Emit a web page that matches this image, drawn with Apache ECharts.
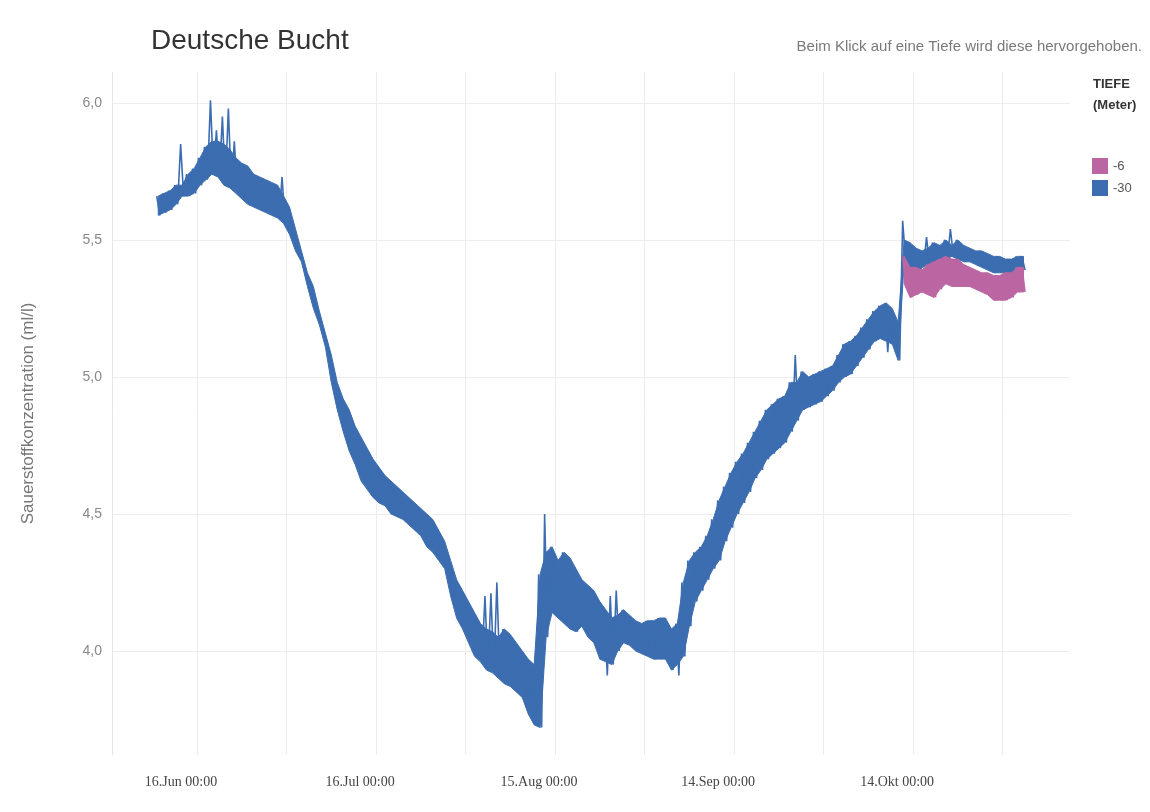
<!DOCTYPE html>
<html>
<head>
<meta charset="utf-8">
<script src="https://cdn.jsdelivr.net/npm/echarts@6/dist/echarts.min.js"></script>
<style>
html,body{margin:0;padding:0;background:#fff;}
#chart{width:1150px;height:812px;}
</style>
</head>
<body>
<div id="chart"></div>
<script>
// ---- Data ----
// Series -30 m: daily upper / lower edge of the dense band, starting 9 Jun
const startDate30 = [2018, 5, 9];
const deep30Hi = [
5.66,5.67,5.68,5.70,5.70,5.74,5.76,5.80,5.84,5.86,
5.86,5.85,5.83,5.80,5.78,5.77,5.74,5.73,5.72,5.71,
5.70,5.66,5.62,5.54,5.46,5.38,5.33,5.24,5.16,5.08,
4.98,4.92,4.88,4.82,4.78,4.74,4.70,4.67,4.64,4.62,
4.60,4.58,4.56,4.54,4.52,4.50,4.48,4.44,4.40,4.33,
4.26,4.22,4.18,4.14,4.10,4.08,4.07,4.05,4.08,4.06,
4.03,4.00,3.97,3.95,4.28,4.36,4.38,4.33,4.36,4.34,
4.30,4.26,4.24,4.22,4.18,4.15,4.12,4.13,4.15,4.13,
4.11,4.10,4.11,4.11,4.12,4.12,4.08,4.10,4.25,4.33,
4.36,4.38,4.42,4.48,4.55,4.60,4.65,4.69,4.72,4.76,
4.80,4.84,4.88,4.90,4.92,4.93,4.98,4.98,5.02,5.00,
5.01,5.02,5.03,5.04,5.08,5.12,5.13,5.15,5.18,5.21,
5.24,5.26,5.27,5.25,5.20,5.50,5.49,5.47,5.46,5.47,
5.49,5.48,5.50,5.48,5.50,5.48,5.47,5.46,5.46,5.45,
5.44,5.44,5.43,5.43,5.44,5.44
];
const deep30Lo = [
5.59,5.60,5.61,5.63,5.66,5.66,5.67,5.70,5.72,5.74,
5.73,5.70,5.69,5.67,5.65,5.63,5.62,5.61,5.60,5.59,
5.58,5.56,5.52,5.46,5.42,5.33,5.25,5.19,5.11,4.98,
4.88,4.80,4.73,4.68,4.62,4.59,4.56,4.54,4.53,4.50,
4.49,4.48,4.46,4.44,4.42,4.38,4.36,4.33,4.30,4.20,
4.12,4.08,4.03,3.98,3.96,3.93,3.92,3.90,3.88,3.87,
3.85,3.83,3.77,3.73,3.72,4.05,4.14,4.12,4.10,4.08,
4.07,4.09,4.05,4.03,3.97,3.96,3.95,4.00,4.03,4.02,
4.00,3.99,3.98,3.97,3.97,3.97,3.93,3.95,3.98,4.09,
4.18,4.22,4.26,4.30,4.33,4.40,4.45,4.50,4.54,4.58,
4.63,4.66,4.70,4.72,4.74,4.76,4.80,4.84,4.88,4.89,
4.90,4.91,4.93,4.95,4.98,5.00,5.01,5.04,5.07,5.10,
5.13,5.14,5.13,5.12,5.06,5.42,5.38,5.36,5.40,5.41,
5.42,5.42,5.43,5.44,5.43,5.42,5.42,5.41,5.40,5.39,
5.38,5.38,5.38,5.38,5.39,5.39
];
// Isolated spikes of the -30 m series: [day index, value]
const deep30PeaksUp = [[4,5.85],[9,6.01],[10,5.90],[11,5.95],[12,5.98],[13,5.86],[21,5.73],
  [55,4.20],[56,4.21],[57,4.25],[65,4.50],[76,4.20],[77,4.22],[107,5.08],[125,5.57],[129,5.51],[133,5.54]];
const deep30PeaksDown = [[75,3.91],[87,3.91],[122,5.09]];

// Series -6 m: daily upper / lower edge, starting 12 Okt
const startDate6 = [2018, 9, 12];
const deep6Hi = [
5.44,5.40,5.40,5.39,5.41,5.42,5.43,5.44,5.43,5.43,
5.41,5.40,5.39,5.38,5.38,5.37,5.37,5.38,5.38,5.40,5.40
];
const deep6Lo = [
5.34,5.29,5.30,5.31,5.30,5.29,5.32,5.34,5.33,5.33,
5.33,5.33,5.32,5.31,5.30,5.28,5.28,5.28,5.29,5.31,5.31
];
const deep6PeaksUp = [];
const deep6PeaksDown = [];

// Axis ticks
const yTickValues = [4.0, 4.5, 5.0, 5.5, 6.0];
const yTickLabels = ['4,0', '4,5', '5,0', '5,5', '6,0'];
const xGridDates = [[2018,5,16],[2018,6,1],[2018,6,16],[2018,6,31],[2018,7,15],[2018,7,30],[2018,8,14],[2018,8,29],[2018,9,14],[2018,9,29]];
const xLabelDates = [[2018,5,16],[2018,6,16],[2018,7,15],[2018,8,14],[2018,9,14]];
const xTickLabels = ['16.Jun 00:00', '16.Jul 00:00', '15.Aug 00:00', '14.Sep 00:00', '14.Okt 00:00'];
const seriesNames = ['-6', '-30'];
const seriesColors = { '-6': '#bb66a2', '-30': '#3b6db0' };

// ---- Build series ----
const H = 3600 * 1000;
function utc(a, h) { return Date.UTC(a[0], a[1], a[2], h || 0); }
function zigzag(start, hi, lo, up, down) {
  const upMap = new Map(up), downMap = new Map(down);
  const out = [];
  const t0 = utc(start);
  for (let i = 0; i < hi.length; i++) {
    out.push([t0 + i * 24 * H + 6 * H, upMap.has(i) ? upMap.get(i) : hi[i]]);
    out.push([t0 + i * 24 * H + 18 * H, downMap.has(i) ? downMap.get(i) : lo[i]]);
  }
  return out;
}
const xGridVals = xGridDates.map(d => utc(d));
const xLabelVals = xLabelDates.map(d => utc(d));

function depthSeries(name, start, hi, lo, up, down, z) {
  const c = seriesColors[name];
  const t0 = utc(start);
  return [
    { // dense band between daily low and high
      name: name, type: 'custom', silent: true, z: z,
      itemStyle: { color: c },
      data: [[t0 + 12 * H, lo[0]]],
      encode: { x: 0, y: 1 },
      renderItem: function (params, api) {
        const upper = [], lower = [];
        for (let i = 0; i < hi.length; i++) {
          const t = t0 + i * 24 * H + 12 * H;
          upper.push(api.coord([t, hi[i]]));
          lower.push(api.coord([t, lo[i]]));
        }
        const pts = upper.concat(lower.reverse());
        return { type: 'polygon', shape: { points: pts },
                 style: { fill: c, stroke: c, lineWidth: 1 } };
      }
    },
    { name: name, type: 'line', data: zigzag(start, hi, lo, up, down),
      symbol: 'none', showSymbol: false, itemStyle: { color: c },
      lineStyle: { color: c, width: 1.6 }, z: z }
  ];
}

const chart = echarts.init(document.getElementById('chart'), null, { renderer: 'canvas' });
chart.setOption({
  animation: false,
  backgroundColor: '#ffffff',
  title: [
    { text: 'Deutsche Bucht', left: 146, top: 22,
      textStyle: { fontFamily: 'Liberation Sans, Arial, sans-serif', fontSize: 28, fontWeight: 'normal', color: '#333' } },
    { text: 'Beim Klick auf eine Tiefe wird diese hervorgehoben.', right: 3, top: 34,
      textStyle: { fontFamily: 'Liberation Sans, Arial, sans-serif', fontSize: 15, fontWeight: 'normal', color: '#7a7a7a' } },
    { text: 'TIEFE\n(Meter)', left: 1088, top: 69,
      textStyle: { fontFamily: 'Liberation Sans, Arial, sans-serif', fontSize: 13, fontWeight: 'bold', color: '#333', lineHeight: 21 } }
  ],
  legend: {
    data: seriesNames,
    orient: 'vertical',
    left: 1087,
    top: 153,
    itemWidth: 16,
    itemHeight: 16,
    itemGap: 6,
    icon: 'rect',
    textStyle: { fontFamily: 'Liberation Sans, Arial, sans-serif', fontSize: 13, color: '#555' }
  },
  grid: { left: 112, right: 80, top: 72, bottom: 57, containLabel: false },
  xAxis: {
    type: 'value',
    min: Date.UTC(2018, 5, 1, 18),
    max: Date.UTC(2018, 10, 9, 7),
    axisLine: { show: false },
    axisTick: { show: false, customValues: xGridVals },
    splitLine: { show: true, lineStyle: { color: '#ededed', width: 1 } },
    axisLabel: {
      customValues: xLabelVals,
      margin: 20,
      padding: [0, 32, 0, 0],
      fontFamily: 'Liberation Serif, Times New Roman, serif',
      fontSize: 14,
      color: '#444',
      formatter: function (v) {
        const i = xLabelVals.indexOf(v);
        return i >= 0 ? xTickLabels[i] : '';
      }
    }
  },
  yAxis: {
    type: 'value',
    min: 3.62,
    max: 6.113,
    name: 'Sauerstoffkonzentration (ml/l)',
    nameLocation: 'middle',
    nameGap: 75,
    nameRotate: 90,
    nameTextStyle: { fontFamily: 'Liberation Sans, Arial, sans-serif', fontSize: 17, color: '#777' },
    axisLine: { show: true, lineStyle: { color: '#e6e6e6' } },
    axisTick: { show: false, customValues: yTickValues },
    splitLine: { show: true, lineStyle: { color: '#ededed', width: 1 } },
    axisLabel: {
      customValues: yTickValues,
      margin: 10,
      fontFamily: 'Liberation Sans, Arial, sans-serif',
      fontSize: 14,
      color: '#888',
      formatter: function (v) {
        const i = yTickValues.findIndex(t => Math.abs(t - v) < 1e-6);
        return i >= 0 ? yTickLabels[i] : '';
      }
    }
  },
  series: [].concat(
    depthSeries('-30', startDate30, deep30Hi, deep30Lo, deep30PeaksUp, deep30PeaksDown, 2),
    depthSeries('-6', startDate6, deep6Hi, deep6Lo, deep6PeaksUp, deep6PeaksDown, 3)
  )
});
</script>
</body>
</html>
